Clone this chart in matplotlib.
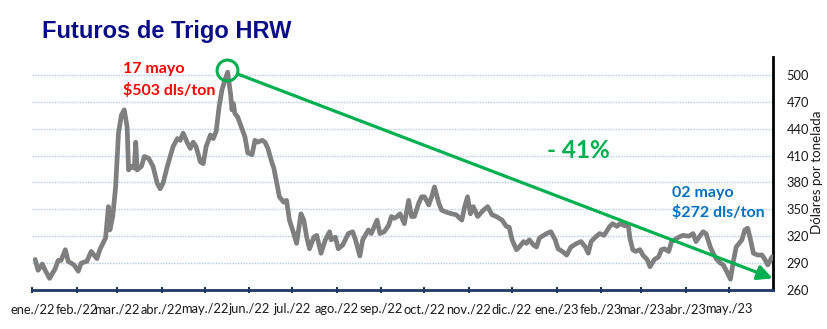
import matplotlib
matplotlib.use("Agg")
import matplotlib.pyplot as plt
import matplotlib.dates as mdates
import pandas as pd
import numpy as np

# ---- data ----
start_date = "2022-01-01"
days = [2, 4, 7, 9, 12, 16, 18, 20, 23, 25, 29, 32, 34, 38, 41, 45, 47, 51, 53, 54,
        56, 58, 60, 62, 64, 66, 67, 69, 71, 72, 73, 76, 78, 81, 84, 87, 89, 91, 94, 96,
        98, 101, 103, 105, 108, 110, 112, 114, 117, 119, 121, 124, 126, 128, 130, 132, 134, 136, 138, 139,
        140, 141, 143, 146, 148, 150, 153, 155, 157, 160, 162, 164, 167, 168, 170, 172, 175, 177, 179, 182,
        184, 187, 189, 191, 193, 196, 198, 201, 204, 207, 208, 211, 213, 216, 220, 223, 225, 228, 230, 234,
        236, 240, 242, 245, 248, 250, 252, 254, 256, 259, 262, 264, 266, 269, 271, 273, 276, 278, 280, 283,
        285, 288, 292, 295, 299, 301, 303, 305, 307, 310, 314, 317, 320, 323, 327, 330, 332, 334, 337, 339,
        342, 344, 346, 349, 351, 353, 356, 358, 361, 364, 366, 369, 372, 375, 379, 382, 385, 387, 389, 392,
        395, 398, 402, 404, 407, 409, 412, 415, 416, 418, 420, 423, 425, 428, 430, 433, 436, 438, 440, 443,
        445, 447, 450, 453, 457, 460, 462, 465, 467, 469, 472, 474, 476, 479, 481, 483, 486, 488, 490, 492,
        494, 496, 498, 500, 502, 505, 508, 510, 512, 515]
prices = [294, 282, 289, 282, 273, 284, 293, 293, 305, 292, 288, 281, 290, 292, 303, 295, 305, 318, 353, 327,
          342, 375, 435, 455, 461, 442, 394, 398, 396, 425, 394, 398, 409, 407, 398, 379, 373, 379, 398, 409,
          420, 429, 427, 435, 424, 418, 425, 420, 403, 401, 420, 433, 429, 437, 464, 483, 494, 503, 479, 461,
          468, 457, 453, 440, 431, 413, 411, 427, 425, 427, 425, 418, 401, 397, 381, 364, 358, 360, 338, 323,
          312, 345, 338, 319, 306, 319, 321, 301, 316, 325, 316, 319, 306, 310, 323, 325, 316, 298, 316, 327,
          323, 338, 323, 325, 332, 342, 340, 342, 345, 334, 360, 342, 342, 357, 364, 364, 355, 364, 375, 357,
          349, 347, 345, 344, 338, 353, 364, 345, 353, 342, 349, 353, 344, 342, 338, 331, 330, 316, 305, 308,
          314, 312, 316, 310, 308, 318, 321, 323, 325, 316, 306, 303, 299, 308, 312, 314, 308, 301, 314, 319,
          323, 321, 331, 334, 331, 334, 332, 331, 318, 305, 303, 305, 299, 294, 286, 294, 297, 305, 306, 303,
          314, 316, 319, 321, 320, 323, 314, 321, 325, 323, 308, 301, 295, 290, 288, 282, 272, 292, 308, 312,
          316, 327, 329, 316, 301, 299, 299, 294, 288, 297]

month_labels = ["ene./22", "feb./22", "mar./22", "abr./22", "may./22", "jun./22", "jul./22",
                "ago./22", "sep./22", "oct./22", "nov./22", "dic./22", "ene./23", "feb./23",
                "mar./23", "abr./23", "may./23"]
y_ticks = [260, 290, 320, 350, 380, 410, 440, 470, 500]

peak_date, peak_value = "2022-05-17", 503
low_date, low_value = "2023-05-02", 272
change_text = "- 41%"

# ---- figure ----
W, H = 828, 329
fig = plt.figure(figsize=(W / 100, H / 100), dpi=100)
ax = fig.add_axes([32.3 / W, 1 - 290 / H, (772.7 - 32.3) / W, (290 - 57) / H])

base = pd.Timestamp(start_date)
dates = base + pd.to_timedelta(days, unit="D")

navy = "#1F3864"
green = "#00B050"
grey = "#7F7F7F"

x0 = mdates.date2num(base)
x1 = mdates.date2num(pd.Timestamp("2023-05-31") + pd.Timedelta(hours=10))
ax.set_xlim(x0, x1)
ax.set_ylim(260, 520)

for v in y_ticks[1:]:
    ax.axhline(v, color="#B4C7E7", lw=1.0, ls=(0, (1, 1)), zorder=1)

ax.plot(mdates.date2num(dates), prices, color=grey, lw=3.4, solid_joinstyle="round",
        solid_capstyle="round", zorder=3)

# month ticks
month_starts = pd.date_range("2022-01-01", periods=len(month_labels), freq="MS")
ax.set_xticks(mdates.date2num(month_starts))
ax.set_xticklabels(month_labels)
ax.tick_params(axis="x", direction="inout", length=5, width=1.5, color=navy, pad=7,
               labelsize=9.3, labelcolor="#1a1a1a")

ax.yaxis.tick_right()
ax.set_yticks(y_ticks)
ax.tick_params(axis="y", length=0, pad=10, labelsize=9.3, labelcolor="#1a1a1a")

for lab in ax.get_xticklabels() + ax.get_yticklabels():
    lab.set_family("Lato")

fig.text(817 / W, 1 - 172 / H, "Dólares por tonelada", rotation=90, fontsize=9.6,
         color="#1a1a1a", family="Lato", ha="center", va="center")

ax.spines["top"].set_visible(False)
ax.spines["left"].set_visible(False)
ax.spines["bottom"].set_color(navy)
ax.spines["bottom"].set_linewidth(2)
ax.spines["right"].set_color("black")
ax.spines["right"].set_linewidth(2)

# peak circle and trend arrow
pk = mdates.date2num(pd.Timestamp(peak_date))
ax.plot([pk - 0.5], [peak_value + 2], marker="o", ms=15, mfc="none", mec=green, mew=2.2,
        zorder=5, clip_on=False)
ax.annotate("", xy=(x1, low_value + 1), xytext=(pk + 7, peak_value - 2),
            arrowprops=dict(arrowstyle="-|>,head_length=0.9,head_width=0.45", color=green,
                            lw=2.3, shrinkA=0, shrinkB=0), zorder=4, annotation_clip=False)

# texts
fig.text(42 / W, 1 - 38 / H, "Futuros de Trigo HRW", fontsize=17, fontweight="bold",
         color="#0B0B86", family="Liberation Sans", va="baseline", ha="left")
fig.text(123 / W, 1 - 73.3 / H, "17 mayo", fontsize=11.5, fontweight="bold", color="#FF0000",
         family="Lato", va="baseline")
fig.text(123 / W, 1 - 95 / H, "$503 dls/ton", fontsize=11.5, fontweight="bold", color="#FF0000",
         family="Lato", va="baseline")
fig.text(547 / W, 1 - 158.3 / H, change_text, fontsize=17.5, fontweight="bold", color=green,
         family="Lato", va="baseline")
fig.text(672 / W, 1 - 196.7 / H, "02 mayo", fontsize=11.5, fontweight="bold", color="#0070C0",
         family="Lato", va="baseline")
fig.text(672 / W, 1 - 217.3 / H, "$272 dls/ton", fontsize=11.5, fontweight="bold", color="#0070C0",
         family="Lato", va="baseline")

fig.savefig("out.png", dpi=100)
